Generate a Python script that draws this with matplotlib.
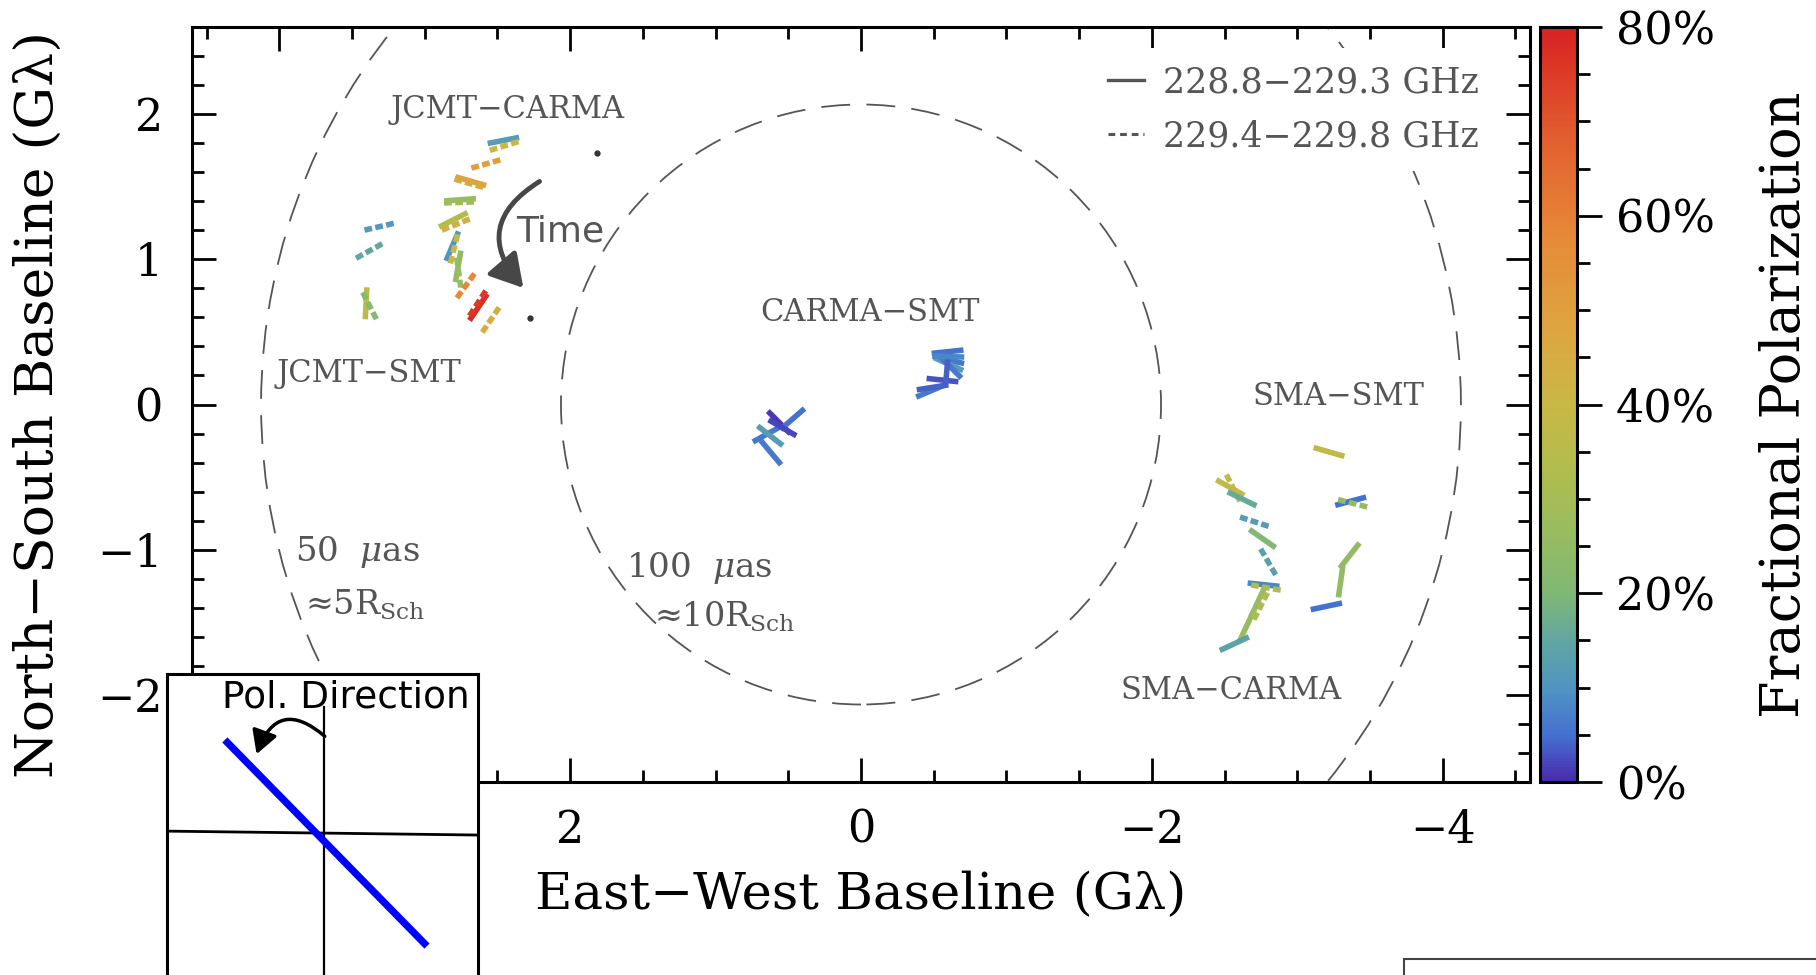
import numpy as np
import matplotlib
matplotlib.use("Agg")
import matplotlib.pyplot as plt
from matplotlib.colors import LinearSegmentedColormap, Normalize
from matplotlib.cm import ScalarMappable
from matplotlib.patches import Circle, FancyArrowPatch, Rectangle
from matplotlib.lines import Line2D
from matplotlib.ticker import MultipleLocator, FuncFormatter

plt.rcParams['font.family'] = 'DejaVu Serif'
plt.rcParams['mathtext.fontset'] = 'dejavuserif'

# ---- polarization ticks: (u, v) in G-lambda, EVPA in deg E of N, fractional pol in %, band
seg_u = [2.459, 2.447, 2.573, 2.683, 2.690, 2.757, 2.757, 2.803, 2.780, 2.810,
         2.800, 2.770, 2.765, 2.722, 2.631, 2.640, 2.550,
         3.307, 3.376, 3.403, 3.376,
         -0.481, -0.492, -0.560, -0.595, -0.602, -0.602, -0.613, -0.590, -0.600,
         0.647, 0.620, 0.563, 0.471, 0.624, 0.540,
         -3.218, -3.367, -3.387, -3.360, -3.298, -3.200,
         -2.539, -2.562, -2.620, -2.711, -2.761, -2.803, -2.768, -2.791, -2.727,
         -2.647, -2.745, -2.567]
seg_v = [1.816, 1.780, 1.656, 1.536, 1.520, 1.408, 1.390, 1.270, 1.240, 1.089,
         1.063, 0.950, 0.900, 0.811, 0.669, 0.690, 0.576,
         1.224, 1.059, 0.696, 0.673,
         0.094, 0.118, 0.168, 0.363, 0.306, 0.278, 0.260, 0.232, 0.330,
         -0.204, -0.330, -0.123, -0.100, -0.215, -0.160,
         -0.326, -0.665, -0.681, -1.039, -1.218, -1.388,
         -0.571, -0.580, -0.649, -0.808, -0.922, -1.088, -1.239, -1.260, -1.361,
         -1.533, -1.393, -1.645]
seg_evpa = [101, 107, 106, 74, 74, 94, 92, 117, 112, -23,
            -14, -10, 8, -36, -34, -33, -34,
            103, 119, -3, 27,
            113, 99, 84, 96, 77, 66, 45, -5, 88,
            119, 40, 45, 131, 52, 60,
            74, 105, 76, -38, -8, 102,
            61, 27, 64, 72, 55, 30, 84, 80, -25,
            -25, -27, 115]
seg_frac = [12, 40, 50, 48, 46, 26, 28, 34, 44, 10,
            40, 25, 26, 58, 78, 75, 45,
            11, 15, 36, 22,
            6, 4, 3, 5, 6, 12, 6, 4, 8,
            6, 6, 1, 5, 12, 2,
            38, 5, 25, 25, 25, 5,
            38, 37, 16, 12, 20, 13, 8, 32, 26,
            26, 32, 14]
seg_band = [1, 2, 2, 1, 2, 1, 2, 1, 2, 1,
            2, 1, 2, 2, 1, 2, 2,
            2, 2, 1, 2,
            1, 1, 1, 1, 1, 1, 1, 1, 1,
            1, 1, 1, 1, 1, 1,
            1, 1, 2, 1, 1, 1,
            1, 2, 1, 2, 1, 2, 1, 2, 1,
            1, 2, 1]

# baseline names and their label anchors
baseline_names = ["JCMT\u2212CARMA", "JCMT\u2212SMT", "CARMA\u2212SMT", "SMA\u2212SMT", "SMA\u2212CARMA"]
baseline_lab_u = [2.433, 3.387, -0.061, -3.285, -2.546]
baseline_lab_v = [1.969, 0.155, 0.576, -0.005, -2.028]

# fringe-spacing circles (radius in G-lambda) and their labels
circle_radius = [4.125, 2.063]
circle_text = ["50  $\\mu$as", "100  $\\mu$as"]
circle_text2 = ["\u22485R$_{\\mathrm{Sch}}$", "\u224810R$_{\\mathrm{Sch}}$"]
circle_lab_u = [3.889, 1.619]
circle_lab_v = [-1.073, -1.184]
circle_lab2_u = [3.82, 1.42]
circle_lab2_v = [-1.447, -1.527]

band_labels = ["228.8\u2212229.3 GHz", "229.4\u2212229.8 GHz"]
marker_u = [1.816, 2.279]
marker_v = [1.731, 0.597]

cbar_ticks = [0, 20, 40, 60, 80]

# ---- colour map for fractional polarization
cmap = LinearSegmentedColormap.from_list("fracpol", [
    (0.00, "#4a2aad"), (0.06, "#4470d0"), (0.12, "#4f93c4"), (0.19, "#62a79e"),
    (0.25, "#80b874"), (0.33, "#98bc60"), (0.42, "#b3bc4c"), (0.50, "#c9b846"),
    (0.60, "#dea53f"), (0.72, "#e68a38"), (0.85, "#e2602f"), (1.00, "#d82222")])
norm = Normalize(0, 80)

W, H = 1816, 975
fig = plt.figure(figsize=(W / 100, H / 100), dpi=100)
ax = fig.add_axes([192 / W, 1 - 782 / H, 1338 / W, 755 / H])
cax = fig.add_axes([1540 / W, 1 - 782 / H, 37 / W, 755 / H])

ax.set_xlim(4.6, -4.6)
ax.set_ylim(-2.596, 2.596)

gray = "#555555"

# fringe-spacing circles
for r in circle_radius:
    ax.add_patch(Circle((0, 0), r, fill=False, ls=(0, (16, 9)), lw=1.3, ec=gray, zorder=1))

# polarization ticks
half = 0.11
for u, v, chi, p, b in zip(seg_u, seg_v, seg_evpa, seg_frac, seg_band):
    s, c = np.sin(np.radians(chi)), np.cos(np.radians(chi))
    ls = "-" if b == 1 else (0, (1.4, 0.6))
    ax.plot([u + half * s, u - half * s], [v + half * c, v - half * c],
            color=cmap(norm(p)), lw=4.0, ls=ls, solid_capstyle="butt",
            dash_capstyle="butt", zorder=3)

ax.plot(marker_u, marker_v, "o", ms=3.5, color="#333333", zorder=3)

# labels
for name, u, v in zip(baseline_names, baseline_lab_u, baseline_lab_v):
    ax.text(u, v, name, ha="center", va="baseline", fontsize=22, color=gray)
for t, u, v in zip(circle_text, circle_lab_u, circle_lab_v):
    ax.text(u, v, t, ha="left", va="baseline", fontsize=24.5, color=gray)
for t, u, v in zip(circle_text2, circle_lab2_u, circle_lab2_v):
    ax.text(u, v, t, ha="left", va="baseline", fontsize=24, color=gray)

# time direction arrow
ax.add_patch(FancyArrowPatch((2.194, 1.544), (2.309, 0.787),
                             connectionstyle="arc3,rad=0.6",
                             arrowstyle="-|>,head_length=0.55,head_width=0.32",
                             mutation_scale=36, lw=3.5, color="#474747", zorder=4))
ax.text(2.068, 1.19, "Time", family="DejaVu Sans", fontsize=26, color=gray,
        ha="center", va="center", zorder=4)

# band legend
handles = [Line2D([], [], color=gray, lw=2.4, ls="-"),
           Line2D([], [], color=gray, lw=2.2, ls=(0, (2.2, 1.6)))]
leg = ax.legend(handles, band_labels, loc="upper right", bbox_to_anchor=(0.975, 0.972),
                frameon=True, facecolor="white", edgecolor="none", framealpha=1,
                fancybox=False, fontsize=25, handlelength=1.05, handletextpad=0.55,
                labelspacing=0.58, borderpad=0.5, borderaxespad=0)
for t in leg.get_texts():
    t.set_color(gray)

# axes styling
for sp in ax.spines.values():
    sp.set_linewidth(2.2)
ax.xaxis.set_major_locator(MultipleLocator(2))
ax.xaxis.set_minor_locator(MultipleLocator(0.5))
ax.yaxis.set_major_locator(MultipleLocator(1))
ax.yaxis.set_minor_locator(MultipleLocator(0.2))
ax.tick_params(which="both", direction="in", top=True, right=True, width=2)
ax.tick_params(which="major", length=17, labelsize=32)
ax.tick_params(axis="x", which="major", pad=19)
ax.tick_params(axis="y", which="major", pad=21)
ax.tick_params(which="minor", length=8.5)
ax.set_xlabel("East\u2212West Baseline (G\u03bb)", fontsize=37)
ax.set_ylabel("North\u2212South Baseline (G\u03bb)", fontsize=38.5)
ax.xaxis.set_label_coords(0.5, (782 - 895) / 755)
ax.xaxis.label.set_va("center")
ax.yaxis.set_label_coords((38 - 192) / 1338, 0.5)
ax.yaxis.label.set_va("center")

# colour bar
cb = fig.colorbar(ScalarMappable(norm=norm, cmap=cmap), cax=cax, ticks=cbar_ticks)
cb.outline.set_linewidth(2.2)
cax.yaxis.set_major_formatter(FuncFormatter(lambda x, p: f"{x:.0f}%"))
cax.yaxis.set_minor_locator(MultipleLocator(5))
cax.tick_params(which="both", direction="out", width=2)
cax.tick_params(which="major", length=18, labelsize=32, pad=10)
cax.tick_params(which="minor", length=9)
cax.set_ylabel("Fractional Polarization", fontsize=39)
cax.yaxis.set_label_coords((1785 - 1540) / 37, 0.5)
cax.yaxis.label.set_va("center")

# polarization direction key
kax = fig.add_axes([167 / W, 0, 311 / W, 301 / H], zorder=5)
kax.set_facecolor("white")
kax.set_xlim(0, 1)
kax.set_ylim(0, 1)
kax.set_xticks([])
kax.set_yticks([])
for k, sp in kax.spines.items():
    sp.set_linewidth(2.2)
kax.spines["bottom"].set_visible(False)
kax.plot([0.505, 0.505], [0, 0.89], color="black", lw=1.6)
kax.plot([0, 1], [0.478, 0.465], color="black", lw=2.0)
kax.plot([0.186, 0.836], [0.781, 0.096], color="#0000ff", lw=5.2, solid_capstyle="butt")
kax.add_patch(FancyArrowPatch((0.514, 0.787), (0.285, 0.725),
                              connectionstyle="arc3,rad=0.75",
                              arrowstyle="-|>,head_length=0.5,head_width=0.28",
                              mutation_scale=28, lw=2.5, color="black"))
kax.text(0.177, 0.89, "Pol. Direction", family="DejaVu Sans", fontsize=27,
         ha="left", va="baseline", color="black")

fig.add_artist(Rectangle((1404 / W, -0.05), 0.5, 0.05 + 16 / H, transform=fig.transFigure,
                         fill=False, edgecolor="#444444", lw=1.5))

fig.savefig("out.png", dpi=100, facecolor="white")
